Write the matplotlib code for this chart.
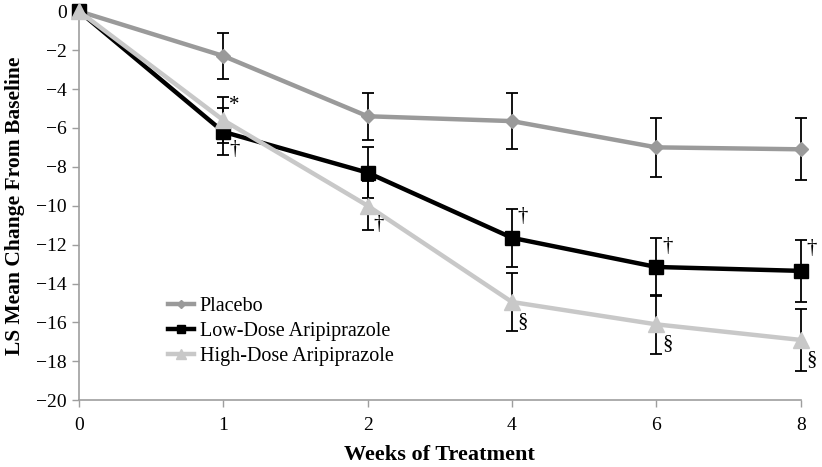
import matplotlib
matplotlib.use("Agg")
import matplotlib.pyplot as plt
import numpy as np

# ── Data ────────────────────────────────────────────────────────────────────
weeks = ["0", "1", "2", "4", "6", "8"]

placebo_mean = [0.0, -2.3, -5.4, -5.65, -7.0, -7.1]
placebo_err  = [0.0, 1.2, 1.2, 1.45, 1.5, 1.6]

low_mean = [0.0, -6.2, -8.3, -11.65, -13.15, -13.35]
low_err  = [0.0, 1.2, 1.3, 1.5, 1.5, 1.6]

high_mean = [0.0, -5.6, -10.0, -14.95, -16.1, -16.9]
high_err  = [0.0, 1.2, 1.25, 1.5, 1.5, 1.6]

# significance marks: (week index, symbol, anchor)
low_marks  = [(1, "\u2020", "bottom"), (3, "\u2020", "top"), (4, "\u2020", "top"),
              (5, "\u2020", "top")]
high_marks = [(1, "*", "top"), (2, "\u2020", "bottom"), (3, "\u00a7", "mean"),
              (4, "\u00a7", "mean"), (5, "\u00a7", "mean")]

# ── Style ───────────────────────────────────────────────────────────────────
PLACEBO = "#9a9a9a"
LOW     = "#000000"
HIGH    = "#c8c8c8"
AXIS    = "#9e9e9e"

plt.rcParams["font.family"] = ["Liberation Serif", "DejaVu Serif"]
plt.rcParams["axes.unicode_minus"] = True

fig = plt.figure(figsize=(8.22, 4.67), dpi=100)
fig.patch.set_facecolor("white")
ax = fig.add_axes([0.096, 0.143, 0.878, 0.833])

x = np.arange(len(weeks))

series = [
    ("Placebo", placebo_mean, placebo_err, PLACEBO, "D", 7),
    ("Low-Dose Aripiprazole", low_mean, low_err, LOW, "s", 10),
    ("High-Dose Aripiprazole", high_mean, high_err, HIGH, "^", 11),
]

for label, mean, err, color, marker, ms in series:
    m = np.array(err) > 0
    ax.errorbar(x[m], np.array(mean)[m], yerr=np.array(err)[m], fmt="none",
                ecolor="black", elinewidth=1.3, capsize=4, capthick=1.3,
                zorder=2, clip_on=False)
for label, mean, err, color, marker, ms in series:
    ax.plot(x, mean, color=color, linewidth=3.2, marker=marker,
            markersize=ms, markeredgecolor=color, label=label, zorder=3,
            clip_on=False)


def place_marks(marks, mean, err):
    for i, sym, anchor in marks:
        if anchor == "top":
            y, dy = mean[i] + err[i], -6
        elif anchor == "bottom":
            y, dy = mean[i] - err[i], 4
        else:
            y, dy = mean[i], -14
        ax.annotate(sym, (x[i], y), xytext=(8, dy), textcoords="offset points",
                    ha="center", va="center", fontsize=15, zorder=4)


place_marks(low_marks, low_mean, low_err)
place_marks(high_marks, high_mean, high_err)

# ── Axes ────────────────────────────────────────────────────────────────────
ax.set_xlim(0, len(weeks) - 1)
ax.set_ylim(-20, 0)
ax.set_xticks(x)
ax.set_xticklabels(weeks)
ax.set_yticks(np.arange(-20, 1, 2))
ax.tick_params(axis="both", labelsize=14, color=AXIS, length=5, width=1)
ax.tick_params(axis="x", pad=7)
ax.spines[["top", "right"]].set_visible(False)
for s in ["left", "bottom"]:
    ax.spines[s].set_color(AXIS)
    ax.spines[s].set_linewidth(1.2)

ax.set_xlabel("Weeks of Treatment", fontsize=16, fontweight="bold", labelpad=8)
ax.set_ylabel("LS Mean Change From Baseline", fontsize=15.5, fontweight="bold",
              labelpad=8)

ax.legend(loc="upper left", bbox_to_anchor=(0.11, 0.292), frameon=False,
          borderpad=0, fontsize=14.5, handlelength=1.25, handletextpad=0.3,
          labelspacing=0.3, markerscale=0.6)

fig.savefig("out.png", dpi=100, facecolor="white")
